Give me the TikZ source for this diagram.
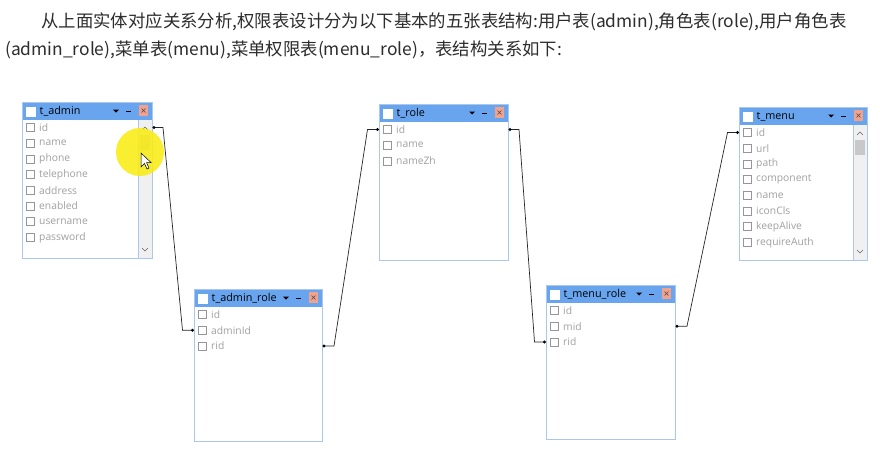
\documentclass[tikz,border=0pt]{standalone}
\usepackage{fontspec}
\setmainfont{Open Sans}
\newfontfamily\cjk{Noto Sans CJK SC}
\usetikzlibrary{calc}
\definecolor{tbarc}{RGB}{104,165,238}
\definecolor{boxc}{RGB}{170,200,236}
\definecolor{closec}{RGB}{240,162,140}
\definecolor{fieldc}{RGB}{160,160,160}
\definecolor{chkc}{RGB}{150,150,150}
\definecolor{sbc}{RGB}{240,240,240}
\definecolor{thumbc}{RGB}{200,200,200}
\definecolor{hdrc}{RGB}{45,45,45}
\definecolor{hlc}{RGB}{250,236,20}
\tikzset{
  tbox/.style={draw=none, fill=white, inner sep=0pt, outer sep=0pt},
  boxline/.style={draw=boxc, line width=0.9pt},
  ttext/.style={inner sep=0pt, font=\fontsize{10.8}{12}\selectfont, text=black},
  ftext/.style={inner sep=0pt, font=\fontsize{10.3}{12}\selectfont, text=fieldc},
  chk/.style={draw=chkc, line width=0.6pt, fill=white},
  conn/.style={draw=black!85, line width=0.7pt},
  dotc/.style={fill=black},
  hdr/.style={inner sep=0pt, anchor=west, text=hdrc, font=\cjk\fontsize{17.4}{20}\selectfont},
}
\newcommand\dbtab[8]{%
  \pgfmathsetmacro\tw{#4-#2}\pgfmathsetmacro\th{#5-#3}%
  \node[tbox, minimum width=\tw pt, minimum height=\th pt, anchor=north west] (#1) at (#2,#3) {};
  \fill[tbarc] (#2,#3) rectangle (#4,{#3+18});
  \fill[white] ({#2+4},{#3+5}) rectangle ({#2+14},{#3+15});
  \node[ttext, anchor=west] (#1-title) at ({#2+17.5},{#3+9.5}) {#6};
  \fill[black] ({#4-39},{#3+7.5}) -- ({#4-33},{#3+7.5}) -- ({#4-36},{#3+10.5}) -- cycle;
  \draw[black, line width=0.8pt] ({#4-26},{#3+9}) -- ({#4-21},{#3+9});
  \fill[closec] ({#4-13},{#3+3}) rectangle ({#4-4},{#3+14});
  \draw[black!70, line width=0.5pt] ({#4-10.5},{#3+6.5}) -- ({#4-6.5},{#3+10.5}) ({#4-10.5},{#3+10.5}) -- ({#4-6.5},{#3+6.5});
  \ifnum#8=1
    \fill[sbc] ({#4-14},{#3+18}) rectangle (#4,#5);
    \draw[boxc, line width=0.6pt] ({#4-14},{#3+18}) -- ({#4-14},#5);
    \fill[thumbc] ({#4-12},{#3+33}) rectangle ({#4-2},{#3+48});
    \draw[black!60, line width=0.6pt] ({#4-10},{#3+28}) -- ({#4-7},{#3+25}) -- ({#4-4},{#3+28});
    \draw[black!60, line width=0.6pt] ({#4-10},{#5-10}) -- ({#4-7},{#5-7}) -- ({#4-4},{#5-10});
  \fi
  \foreach \f [count=\i] in {#7} {
    \pgfmathsetmacro\yy{#3+25.5+(\i-1)*15.7}
    \draw[chk] ({#2+4},{\yy-4}) rectangle ({#2+12},{\yy+4});
    \node[ftext, anchor=west] (#1-\i-t) at ({#2+17},\yy) {\f};
    \coordinate (#1-\i-e) at ({#4+2},\yy);
    \coordinate (#1-\i-w) at ({#2-1.5},\yy);
  }
  \draw[boxline] (#2,#3) rectangle (#4,#5);
}
\begin{document}
\begin{tikzpicture}[x=1pt,y=-1pt]
\useasboundingbox (0,0) rectangle (880,459);
\fill[white] (0,0) rectangle (880,459);
\node[hdr] (line1) at (41,22) {从上面实体对应关系分析,权限表设计分为以下基本的五张表结构:用户表(admin),角色表(role),用户角色表};
\node[hdr] (line2) at (5,50) {(admin\_role),菜单表(menu),菜单权限表(menu\_role)，表结构关系如下:};

\dbtab{admin}{22}{102}{152}{258}{t\_admin}{id,name,phone,telephone,address,enabled,username,password}{1}
\dbtab{arole}{194}{289}{322}{441}{t\_admin\_role}{id,adminId,rid}{0}
\dbtab{role}{379}{104}{508}{260}{t\_role}{id,name,nameZh}{0}
\dbtab{mrole}{546}{285}{675}{439}{t\_menu\_role}{id,mid,rid}{0}
\dbtab{menu}{739}{107}{867}{260}{t\_menu}{id,url,path,component,name,iconCls,keepAlive,requireAuth}{1}

% cursor highlight
\fill[hlc, opacity=0.88] (140,152) circle (24);
\filldraw[fill=white, draw=black, line width=0.5pt]
  (141,153) -- (141,167) -- (144.5,163.5) -- (147,169) -- (149,168) -- (146.5,162.5) -- (151,162.5) -- cycle;

% connectors
\draw[conn] (admin-1-e) -- ++(9,0) -- ([xshift=-10pt]arole-2-w) -- (arole-2-w);
\draw[conn] (arole-3-e) -- ++(10,0) -- ([xshift=-10pt]role-1-w) -- (role-1-w);
\draw[conn] (role-1-e) -- ++(9,0) -- ([xshift=-10pt]mrole-3-w) -- (mrole-3-w);
\draw[conn] (mrole-2-e) -- ++(10,0) -- ([xshift=-10pt]menu-1-w) -- (menu-1-w);
\foreach \p in {admin-1-e,arole-2-w,arole-3-e,role-1-w,role-1-e,mrole-3-w,mrole-2-e,menu-1-w}
  \fill[dotc] (\p) circle (1.6);
\end{tikzpicture}
\end{document}
